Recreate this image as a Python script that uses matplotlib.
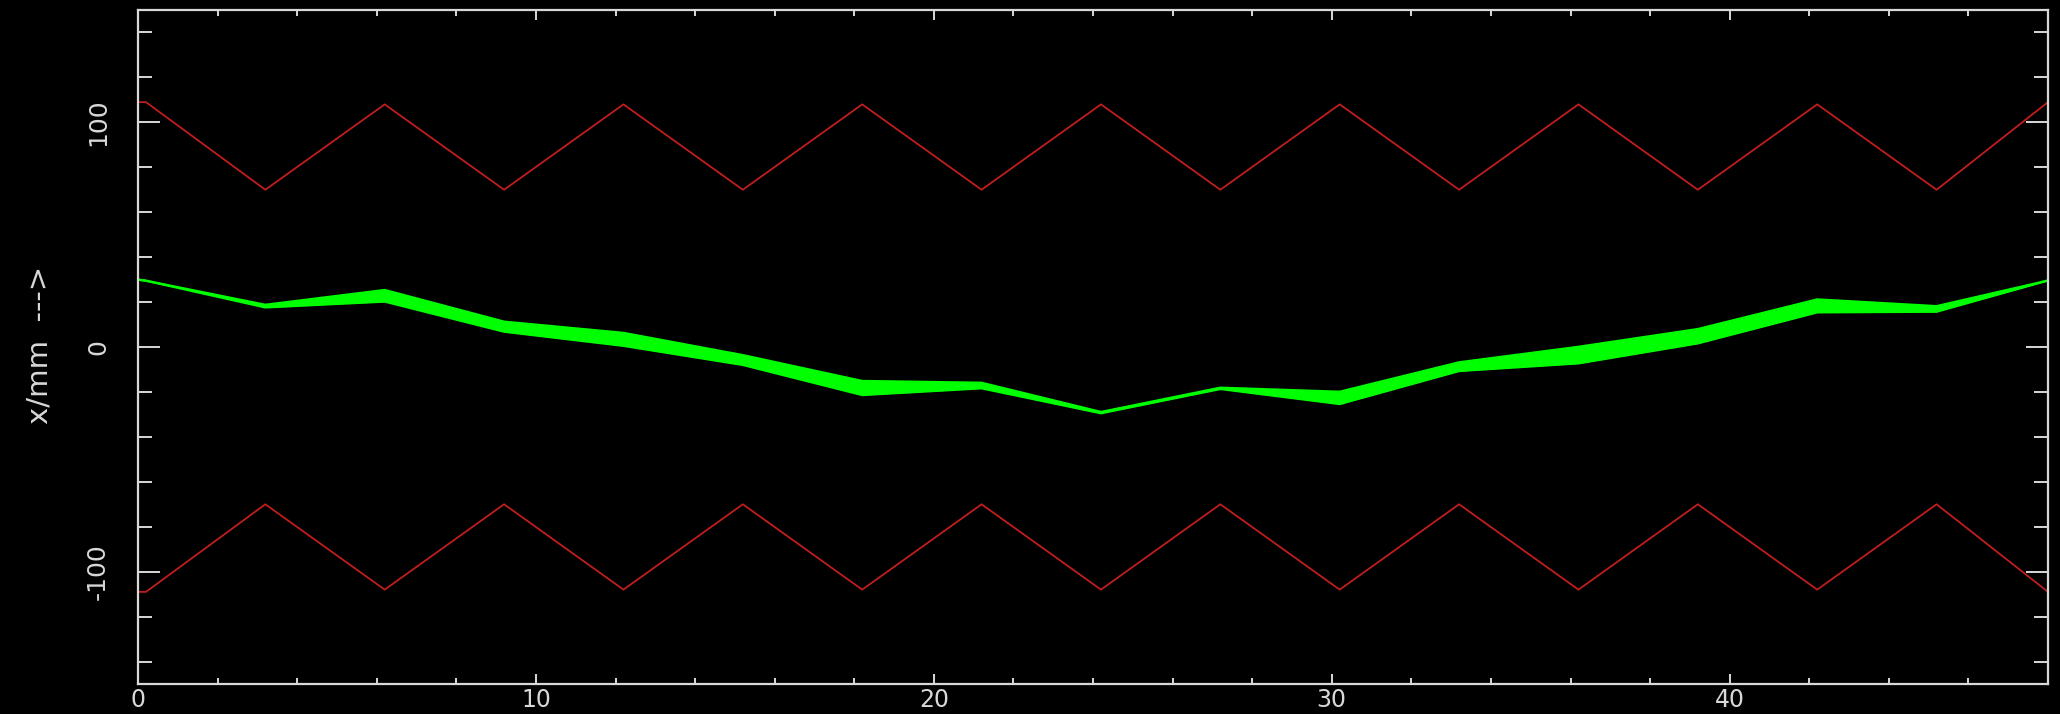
import matplotlib
matplotlib.use("Agg")
import matplotlib.pyplot as plt
from matplotlib.ticker import MultipleLocator, FuncFormatter

# Longitudinal positions of the lattice nodes
s = [0, 0.2, 3.2, 6.2, 9.2, 12.2, 15.2, 18.2, 21.2, 24.2, 27.2, 30.2,
     33.2, 36.2, 39.2, 42.2, 45.2, 48]
# Aperture (red)
aperture_upper = [109, 109, 70, 108, 70, 108, 70, 108, 70, 108, 70, 108,
                  70, 108, 70, 108, 70, 109]
aperture_lower = [-109, -109, -70, -108, -70, -108, -70, -108, -70, -108, -70,
                  -108, -70, -108, -70, -108, -70, -109]
# Beam band (green)
beam_upper = [30, 29.5, 18.8, 25.4, 11.3, 6.3, -3.6, -15.1, -15.9, -28.9,
              -18.1, -19.9, -6.8, 0.1, 8.0, 21.2, 18.2, 29.6]
beam_lower = [30, 29.5, 17.6, 20.2, 6.8, 0.5, -8.0, -21.4, -18.4, -29.5,
              -18.7, -25.4, -10.7, -7.3, 1.6, 15.4, 15.7, 29.6]

fg = "#d8d8d8"
fig = plt.figure(figsize=(20.6, 7.14), dpi=100, facecolor="black")
ax = fig.add_axes([138 / 2060, 30 / 714, (2048 - 138) / 2060, (684 - 10) / 714])
ax.set_facecolor("black")

ax.fill_between(s, beam_lower, beam_upper, color="#00ff00", lw=0)
ax.plot(s, beam_upper, color="#00ff00", lw=1.6)
ax.plot(s, beam_lower, color="#00ff00", lw=1.6)
ax.plot(s, aperture_upper, color="#c01e1e", lw=1.3)
ax.plot(s, aperture_lower, color="#c01e1e", lw=1.3)

ax.set_xlim(0, 48)
ax.set_ylim(-150, 150)
ax.xaxis.set_major_locator(MultipleLocator(10))
ax.xaxis.set_minor_locator(MultipleLocator(2))
ax.yaxis.set_major_locator(MultipleLocator(100))
ax.yaxis.set_minor_locator(MultipleLocator(20))
fmt = FuncFormatter(lambda v, p: "%d" % v)
ax.xaxis.set_major_formatter(fmt)
ax.yaxis.set_major_formatter(fmt)

for sp in ax.spines.values():
    sp.set_color(fg)
    sp.set_linewidth(1.6)

ax.tick_params(axis="x", which="major", direction="in", length=7, width=1.4,
               color=fg, top=True, labelsize=17, labelcolor=fg, pad=3)
ax.tick_params(axis="x", which="minor", direction="in", length=4.5, width=1.4,
               color=fg, top=True)
ax.tick_params(axis="y", which="major", direction="in", length=16, width=1.4,
               color=fg, right=True, labelsize=18, labelcolor=fg, pad=20)
ax.tick_params(axis="y", which="minor", direction="in", length=10, width=1.4,
               color=fg, right=True)
for lab in ax.get_yticklabels():
    lab.set_rotation(90)
    lab.set_va("center")

fig.text(40 / 2060, 1 - 345 / 714, "x/mm  --->", rotation=90, color=fg,
         fontsize=21, ha="center", va="center")

fig.savefig("out.png", dpi=100, facecolor="black")
